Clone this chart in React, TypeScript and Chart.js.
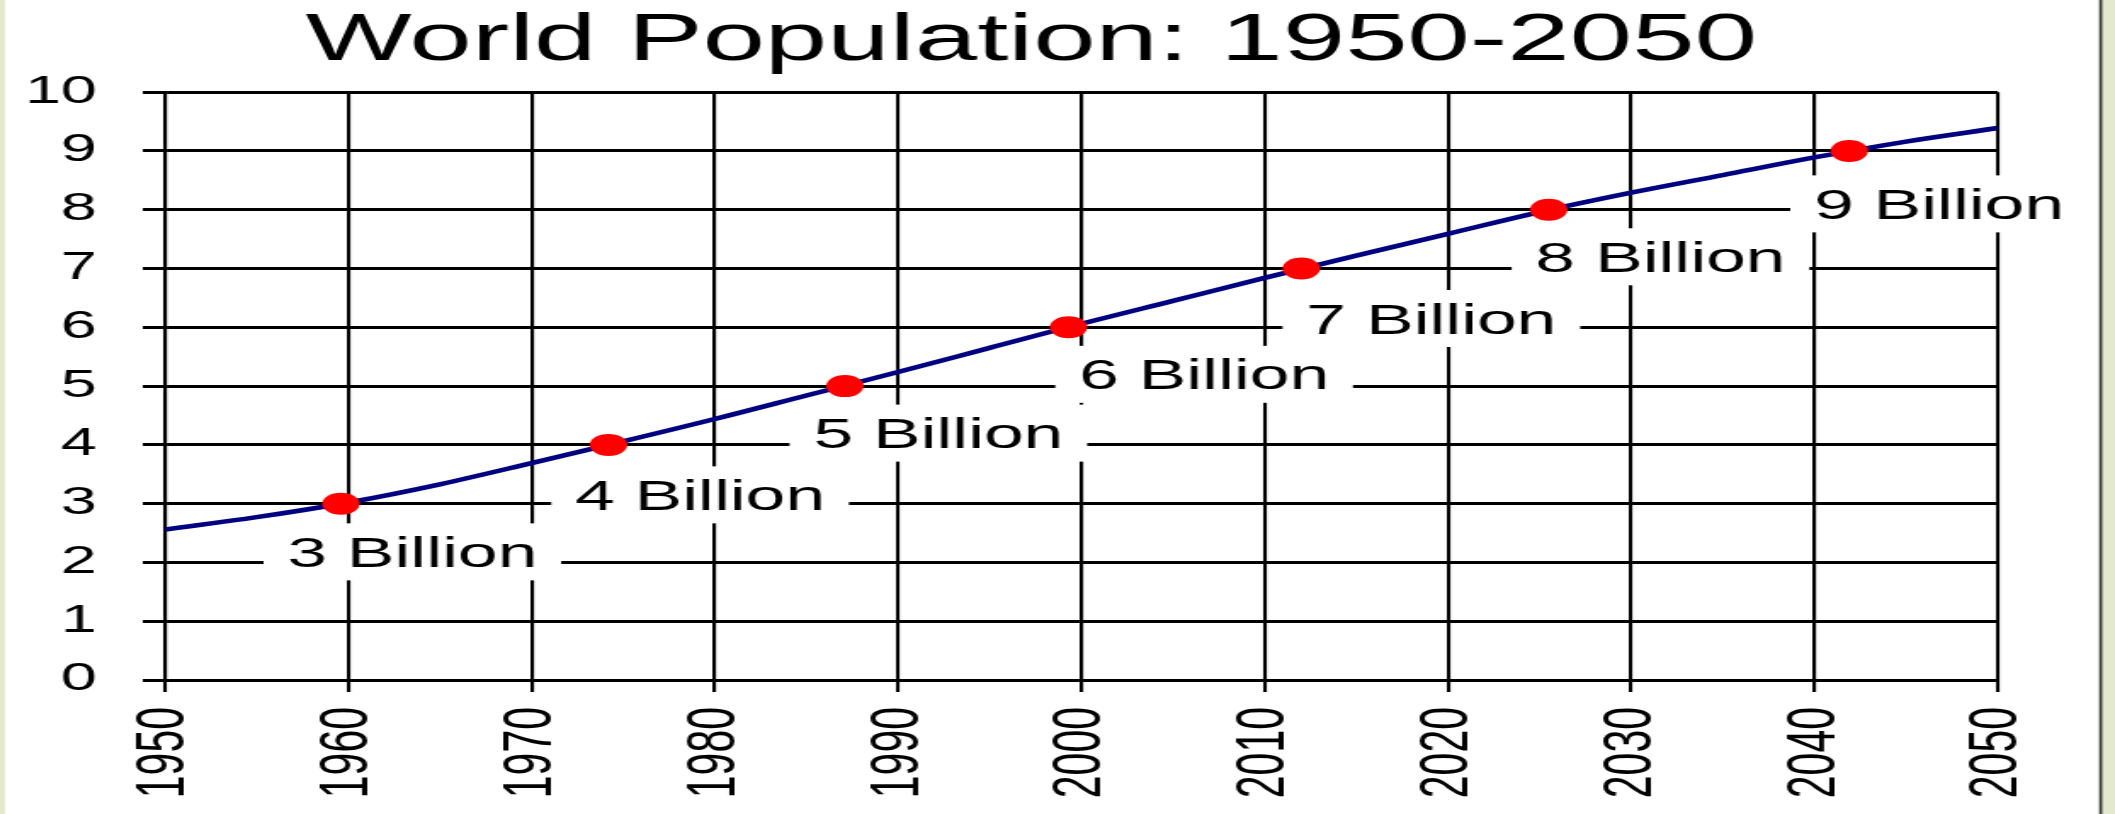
import React, { useEffect, useRef } from 'react';
import { Chart, registerables } from 'chart.js';

Chart.register(...registerables);

// ---- data ----
const years = [1950, 1955, 1960, 1965, 1970, 1975, 1980, 1985, 1990, 1995, 2000, 2005, 2010, 2015, 2020, 2025, 2030, 2035, 2040, 2045, 2050];
const population = [2.56, 2.77, 3.02, 3.33, 3.69, 4.06, 4.44, 4.84, 5.24, 5.65, 6.06, 6.45, 6.84, 7.22, 7.59, 7.96, 8.29, 8.59, 8.89, 9.16, 9.39];

const milestoneYears = [1959.6, 1974.2, 1987.1, 1999.3, 2012.0, 2025.5, 2041.9];
const milestoneValues = [3, 4, 5, 6, 7, 8, 9];
const milestoneLabels = ['3 Billion', '4 Billion', '5 Billion', '6 Billion', '7 Billion', '8 Billion', '9 Billion'];
const labelYears = [1963.5, 1979.2, 1992.2, 2006.7, 2019.1, 2031.6, 2046.8];
const labelValues = [2.18, 3.15, 4.2, 5.2, 6.15, 7.2, 8.1];

const xTickValues = [1950, 1960, 1970, 1980, 1990, 2000, 2010, 2020, 2030, 2040, 2050];
const xTickLabels = ['1950', '1960', '1970', '1980', '1990', '2000', '2010', '2020', '2030', '2040', '2050'];
const yTickValues = [0, 1, 2, 3, 4, 5, 6, 7, 8, 9, 10];
const yTickLabels = ['0', '1', '2', '3', '4', '5', '6', '7', '8', '9', '10'];

const titleText = 'World Population: 1950-2050';

// ---- layout ----
const PAGE_W = 2115;
const PAGE_H = 814;
const STRETCH = 1.7;
const CANVAS_W = Math.round(PAGE_W / STRETCH);
const FONT = "'Liberation Sans', Arial, sans-serif";

const findLabel = (values: number[], labels: string[], v: number) => {
  let best = 0;
  for (let i = 0; i < values.length; i++) {
    if (Math.abs(values[i] - v) < Math.abs(values[best] - v)) best = i;
  }
  return labels[best];
};

const pagePlugin = {
  id: 'page',
  beforeDraw(chart: any) {
    const { ctx, width, height } = chart;
    ctx.save();
    ctx.fillStyle = '#ffffff';
    ctx.fillRect(0, 0, width, height);
    ctx.fillStyle = '#e3e9cc';
    ctx.fillRect(0, 0, 5 / STRETCH, height);
    ctx.fillStyle = '#e3e9cc';
    ctx.fillRect(2101 / STRETCH, 0, width, height);
    ctx.fillStyle = '#3a3a3a';
    ctx.fillRect(2099 / STRETCH, 0, 3 / STRETCH, height);
    ctx.restore();
  },
};

const labelPlugin = {
  id: 'milestoneLabels',
  beforeDatasetsDraw(chart: any) {
    const { ctx, scales } = chart;
    const xs = scales.x;
    const ys = scales.y;
    ctx.save();
    ctx.font = `42px ${FONT}`;
    milestoneLabels.forEach((txt, i) => {
      const cx = xs.getPixelForValue(labelYears[i]);
      const cy = ys.getPixelForValue(labelValues[i]);
      const w = ctx.measureText(txt).width;
      const padX = 14;
      const boxH = 57;
      ctx.fillStyle = '#ffffff';
      ctx.fillRect(cx - w / 2 - padX, cy - boxH / 2, w + padX * 2, boxH);
      ctx.fillStyle = '#000000';
      ctx.textAlign = 'center';
      ctx.textBaseline = 'alphabetic';
      ctx.fillText(txt, cx, cy + 15);
    });
    ctx.restore();
  },
};

export default function App() {
  const ref = useRef<HTMLCanvasElement | null>(null);

  useEffect(() => {
    document.body.style.margin = '0';
    document.body.style.overflow = 'hidden';
    const canvas = ref.current;
    if (!canvas) return;

    const chart = new Chart(canvas, {
      type: 'line',
      data: {
        datasets: [
          {
            type: 'scatter',
            data: milestoneYears.map((x, i) => ({ x, y: milestoneValues[i] })),
            showLine: false,
            pointRadius: 11,
            pointHoverRadius: 11,
            pointBackgroundColor: '#ff0000',
            pointBorderColor: '#ff0000',
            pointBorderWidth: 0,
          } as any,
          {
            type: 'line',
            data: years.map((x, i) => ({ x, y: population[i] })),
            borderColor: '#000080',
            borderWidth: 4.5,
            pointRadius: 0,
            fill: false,
            cubicInterpolationMode: 'monotone',
          } as any,
        ],
      },
      options: {
        responsive: false,
        animation: false,
        devicePixelRatio: 1,
        events: [],
        layout: { padding: { left: 0, right: 31, top: 0, bottom: 0 } },
        plugins: {
          legend: { display: false },
          tooltip: { enabled: false },
          title: {
            display: true,
            text: titleText,
            color: '#000000',
            font: { family: FONT, size: 66, weight: 'normal', lineHeight: 1.2 },
            padding: { top: 2, bottom: 11 },
          },
        },
        scales: {
          x: {
            type: 'linear',
            min: 1950,
            max: 2050,
            afterFit: (s: any) => { s.height = 134; },
            ticks: {
              stepSize: 10,
              autoSkip: false,
              maxRotation: 90,
              minRotation: 90,
              padding: 15,
              color: '#000000',
              font: { family: FONT, size: 41 },
              callback: (v: any) => findLabel(xTickValues, xTickLabels, Number(v)),
            },
            grid: { color: '#000000', lineWidth: 2.1, tickLength: 12, tickColor: '#000000', drawTicks: true },
            border: { display: true, color: '#000000', width: 3 },
          },
          y: {
            type: 'linear',
            position: 'left',
            min: 0,
            max: 10,
            afterFit: (s: any) => { s.width = 97; },
            ticks: {
              stepSize: 1,
              autoSkip: false,
              padding: 27,
              color: '#000000',
              font: { family: FONT, size: 38 },
              callback: (v: any) => findLabel(yTickValues, yTickLabels, Number(v)),
            },
            grid: { color: '#000000', lineWidth: 3, tickLength: 13, tickColor: '#000000', drawTicks: true },
            border: { display: true, color: '#000000', width: 2.1 },
          },
          yRightSpace: {
            type: 'linear',
            position: 'right',
            min: 0,
            max: 10,
            afterFit: (s: any) => { s.width = 38; },
            ticks: { display: false },
            grid: { display: false, drawTicks: false },
            border: { display: false },
          },
        },
      },
      plugins: [pagePlugin, labelPlugin],
    });

    return () => chart.destroy();
  }, []);

  return (
    <div style={{ width: PAGE_W, height: PAGE_H, overflow: 'hidden' }}>
      <canvas
        ref={ref}
        width={CANVAS_W}
        height={PAGE_H}
        style={{ display: 'block', width: `${PAGE_W}px`, height: `${PAGE_H}px` }}
      />
    </div>
  );
}
